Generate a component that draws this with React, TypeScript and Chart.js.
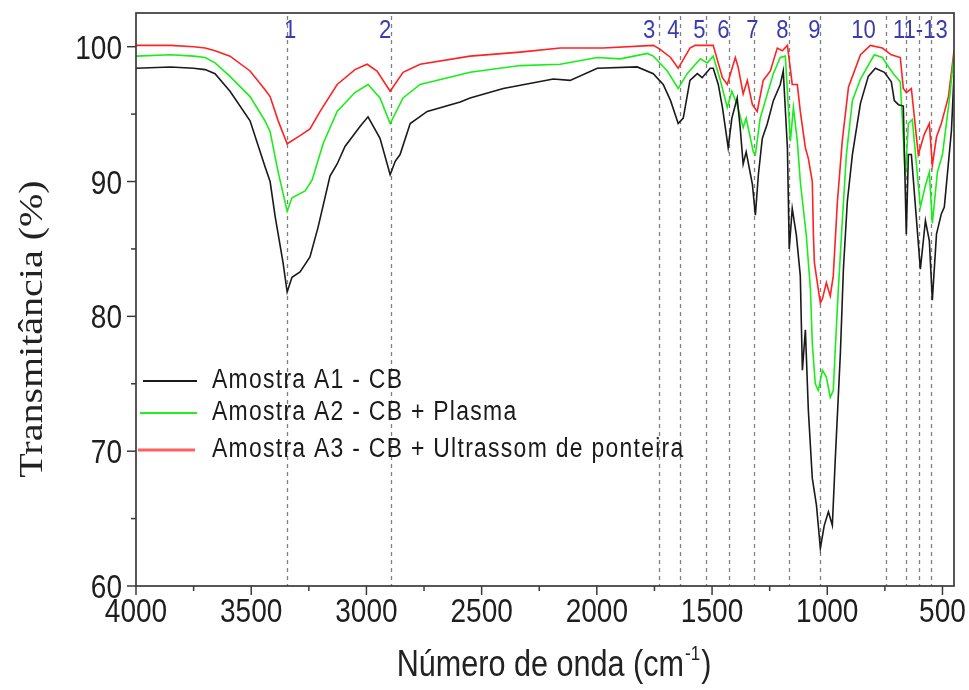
import { useEffect, useRef } from "react";
import { Chart, registerables } from "chart.js";

Chart.register(...registerables);

// ---------- data ----------
const seriesLabels = [
  "Amostra A1 - CB",
  "Amostra A2 - CB + Plasma",
  "Amostra A3 - CB + Ultrassom de ponteira",
];
const seriesColors = ["#1a1a1a", "#19ee19", "#ff2222"];
const legendColors = ["#1a1a1a", "#22ee22", "#ff6060"];

const a1Wave = [4000, 3850, 3750, 3700, 3657, 3592, 3505, 3440, 3418, 3396, 3362, 3344, 3323, 3288, 3245, 3210, 3158, 3127, 3093, 3027, 2993, 2941, 2897, 2875, 2854, 2810, 2736, 2593, 2550, 2406, 2189, 2116, 1998, 1825, 1755, 1712, 1680, 1647, 1625, 1596, 1564, 1543, 1508, 1495, 1473, 1455, 1434, 1430, 1414, 1391, 1378, 1365, 1352, 1325, 1312, 1299, 1282, 1260, 1234, 1204, 1191, 1173, 1165, 1152, 1134, 1117, 1108, 1095, 1082, 1065, 1047, 1030, 1013, 995, 978, 965, 943, 930, 913, 891, 856, 822, 791, 752, 722, 709, 691, 670, 657, 648, 635, 596, 574, 557, 544, 526, 505, 492, 461, 450];
const a1T = [98.4, 98.5, 98.4, 98.3, 98.0, 96.7, 94.5, 91.1, 90.0, 87.4, 84.0, 81.8, 82.9, 83.3, 84.4, 86.6, 90.4, 91.3, 92.6, 94.1, 94.8, 93.2, 90.5, 91.5, 92.0, 94.3, 95.2, 95.9, 96.2, 96.9, 97.6, 97.5, 98.4, 98.5, 98.0, 97.2, 96.0, 94.3, 94.7, 97.5, 98.0, 97.7, 98.4, 98.4, 97.2, 95.5, 93.0, 92.5, 94.7, 96.2, 94.0, 91.3, 92.2, 89.8, 87.5, 90.5, 93.2, 94.3, 96.0, 97.2, 98.2, 92.5, 85.0, 88.0, 86.0, 83.0, 76.0, 79.0, 73.0, 68.0, 66.0, 62.8, 64.5, 65.5, 64.5, 69.5, 77.3, 83.5, 88.5, 92.0, 95.8, 97.8, 98.4, 98.1, 97.4, 96.0, 95.7, 95.6, 86.1, 92.0, 92.0, 83.5, 87.1, 85.6, 81.2, 86.1, 87.6, 88.1, 93.8, 97.9];

const a2Wave = [4000, 3850, 3750, 3700, 3657, 3592, 3505, 3440, 3418, 3383, 3344, 3323, 3266, 3236, 3188, 3127, 3050, 2993, 2941, 2897, 2841, 2767, 2550, 2333, 2159, 1998, 1898, 1781, 1755, 1738, 1694, 1647, 1608, 1551, 1521, 1495, 1464, 1434, 1414, 1391, 1365, 1352, 1321, 1312, 1291, 1260, 1234, 1204, 1182, 1169, 1160, 1147, 1130, 1117, 1104, 1091, 1073, 1065, 1052, 1039, 1021, 1004, 987, 974, 961, 952, 935, 917, 891, 856, 796, 761, 730, 709, 683, 661, 648, 631, 596, 574, 557, 544, 522, 500, 470, 450];
const a2T = [99.3, 99.4, 99.3, 99.2, 98.8, 97.8, 96.3, 94.5, 93.7, 90.7, 87.8, 88.8, 89.3, 90.1, 92.8, 95.2, 96.6, 97.2, 96.2, 94.3, 96.2, 97.2, 98.1, 98.6, 98.7, 99.2, 99.1, 99.5, 99.3, 99.0, 98.2, 96.9, 98.0, 99.1, 98.8, 99.3, 97.5, 95.5, 96.7, 95.7, 94.0, 94.7, 92.2, 92.0, 94.7, 96.5, 98.0, 99.2, 99.3, 95.5, 93.0, 95.5, 93.0, 90.0, 88.0, 86.0, 82.0, 78.0, 75.0, 74.5, 76.0, 75.5, 74.0, 74.5, 79.0, 82.0, 87.0, 92.0, 96.0, 97.6, 99.4, 99.2, 98.4, 97.9, 97.4, 90.4, 94.3, 94.6, 88.1, 89.7, 90.7, 86.9, 90.7, 92.0, 96.1, 99.4];

const a3Wave = [4000, 3850, 3750, 3700, 3657, 3592, 3505, 3440, 3418, 3383, 3344, 3288, 3245, 3201, 3127, 3050, 2997, 2954, 2897, 2841, 2767, 2550, 2333, 2159, 1972, 1755, 1725, 1680, 1647, 1596, 1573, 1495, 1455, 1434, 1399, 1387, 1365, 1347, 1325, 1304, 1278, 1247, 1217, 1195, 1173, 1152, 1130, 1117, 1095, 1082, 1065, 1060, 1056, 1039, 1030, 1021, 1004, 987, 974, 956, 935, 908, 856, 813, 761, 722, 683, 670, 657, 635, 605, 579, 557, 544, 526, 505, 474, 450];
const a3T = [100.1, 100.1, 100.0, 99.9, 99.7, 99.3, 98.2, 96.8, 96.3, 94.5, 92.8, 93.4, 93.9, 95.2, 97.2, 98.3, 98.7, 98.2, 96.7, 98.1, 98.7, 99.3, 99.6, 99.9, 99.9, 100.1, 99.8, 99.2, 98.4, 99.9, 100.1, 100.1, 97.7, 97.2, 99.2, 98.5, 96.5, 97.5, 95.7, 95.2, 97.5, 98.2, 99.9, 99.7, 100.1, 97.2, 97.2, 95.2, 92.5, 91.7, 90.0, 86.0, 84.0, 82.0, 81.0, 81.3, 82.5, 81.5, 83.0, 88.5, 93.0, 97.0, 99.4, 100.1, 99.9, 99.4, 99.2, 96.9, 96.6, 96.9, 92.0, 93.5, 94.3, 91.2, 93.3, 94.3, 96.3, 99.7];

const xTicks = [4000, 3500, 3000, 2500, 2000, 1500, 1000, 500];
const xMinorTicks = [3750, 3250, 2750, 2250, 1750, 1250, 750];
const yTicks = [60, 70, 80, 90, 100];
const yMinorTicks = [65, 75, 85, 95];

const peakWave = [3344, 2895, 1730, 1640, 1525, 1425, 1317, 1165, 1030, 743, 657, 604, 548];
const peakLabels = ["1", "2", "3", "4", "5", "6", "7", "8", "9", "10", "11-13"];
const peakLabelWave = [3331, 2919, 1773, 1668, 1555, 1451, 1325, 1195, 1056, 843, 596];

const xTitle = "Número de onda (cm";
const xTitleSup = "-1";
const yTitle = "Transmitância (%)";

const SANS = "'Liberation Sans', Arial, sans-serif";
const SERIF = "'Liberation Serif', 'Times New Roman', serif";
const SQ = 0.85; // horizontal squeeze of the reference's lettering

function txt(ctx: CanvasRenderingContext2D, s: string, x: number, y: number, align: CanvasTextAlign, sx = SQ) {
  ctx.save();
  ctx.translate(x, y);
  ctx.scale(sx, 1);
  ctx.textAlign = align;
  ctx.fillText(s, 0, 0);
  ctx.restore();
}

const decorPlugin = {
  id: "decor",
  beforeDraw(chart: any) {
    const ctx = chart.ctx;
    ctx.save();
    ctx.fillStyle = "#ffffff";
    ctx.fillRect(0, 0, chart.width, chart.height);
    ctx.restore();
  },
  beforeDatasetsDraw(chart: any) {
    const { ctx, chartArea, scales } = chart;
    const xs = scales.x;
    ctx.save();
    ctx.strokeStyle = "#808080";
    ctx.lineWidth = 1.3;
    ctx.setLineDash([4, 4]);
    peakWave.forEach((w) => {
      const px = Math.round(xs.getPixelForValue(w)) + 0.5;
      ctx.beginPath();
      ctx.moveTo(px, chartArea.top + 3);
      ctx.lineTo(px, chartArea.bottom);
      ctx.stroke();
    });
    ctx.restore();
  },
  afterDraw(chart: any) {
    const { ctx, chartArea, scales } = chart;
    const xs = scales.x;
    const ys = scales.y;
    const { left, right, top, bottom } = chartArea;
    ctx.save();
    // frame
    ctx.strokeStyle = "#3a3a3a";
    ctx.lineWidth = 1.7;
    ctx.strokeRect(left, top, right - left, bottom - top);
    // ticks
    ctx.lineWidth = 1.5;
    xTicks.forEach((v) => {
      const px = xs.getPixelForValue(v);
      ctx.beginPath();
      ctx.moveTo(px, bottom);
      ctx.lineTo(px, bottom + 9);
      ctx.stroke();
    });
    xMinorTicks.forEach((v) => {
      const px = xs.getPixelForValue(v);
      ctx.beginPath();
      ctx.moveTo(px, bottom);
      ctx.lineTo(px, bottom + 5);
      ctx.stroke();
    });
    yTicks.forEach((v) => {
      const py = ys.getPixelForValue(v);
      ctx.beginPath();
      ctx.moveTo(left, py);
      ctx.lineTo(left - 9, py);
      ctx.stroke();
    });
    yMinorTicks.forEach((v) => {
      const py = ys.getPixelForValue(v);
      ctx.beginPath();
      ctx.moveTo(left, py);
      ctx.lineTo(left - 5, py);
      ctx.stroke();
    });
    // tick labels
    ctx.fillStyle = "#1e1e1e";
    ctx.font = `33px ${SANS}`;
    ctx.textBaseline = "alphabetic";
    xTicks.forEach((v) => {
      txt(ctx, String(v), xs.getPixelForValue(v), bottom + 36, "center");
    });
    yTicks.forEach((v) => {
      txt(ctx, String(v), left - 14, ys.getPixelForValue(v) + 12, "right");
    });
    // peak labels
    ctx.fillStyle = "#3b3bb0";
    ctx.font = `26px ${SANS}`;
    ctx.textBaseline = "middle";
    peakLabels.forEach((t, i) => {
      txt(ctx, t, xs.getPixelForValue(peakLabelWave[i]), top + 18, "center");
    });
    // legend
    const legY = [381, 413, 450];
    const legX0 = [143, 140, 138];
    const legX1 = [197, 197, 195];
    ctx.font = `27px ${SANS}`;
    ctx.textBaseline = "middle";
    (ctx as any).letterSpacing = "1.5px";
    seriesLabels.forEach((lab, i) => {
      ctx.strokeStyle = legendColors[i];
      ctx.lineWidth = i === 2 ? 3 : 2;
      ctx.beginPath();
      ctx.moveTo(legX0[i], legY[i]);
      ctx.lineTo(legX1[i], legY[i]);
      ctx.stroke();
      ctx.fillStyle = "#1a1a1a";
      txt(ctx, lab, 212, legY[i], "left");
    });
    (ctx as any).letterSpacing = "0px";
    // x title
    ctx.fillStyle = "#222";
    ctx.textBaseline = "alphabetic";
    ctx.font = `36px ${SANS}`;
    const mainW = ctx.measureText(xTitle).width * SQ;
    const closeW = ctx.measureText(")").width * SQ;
    ctx.font = `20px ${SANS}`;
    const supW = ctx.measureText(xTitleSup).width * SQ;
    const total = mainW + supW + closeW + 2;
    let tx = 554 - total / 2;
    const ty = 676;
    ctx.font = `36px ${SANS}`;
    txt(ctx, xTitle, tx, ty, "left");
    tx += mainW + 1;
    ctx.font = `20px ${SANS}`;
    txt(ctx, xTitleSup, tx, ty - 16, "left");
    tx += supW + 1;
    ctx.font = `36px ${SANS}`;
    txt(ctx, ")", tx, ty, "left");
    // y title
    ctx.save();
    ctx.translate(42, 329);
    ctx.scale(SQ, 1);
    ctx.rotate(-Math.PI / 2);
    ctx.font = `40px ${SERIF}`;
    ctx.textAlign = "center";
    ctx.textBaseline = "alphabetic";
    ctx.fillStyle = "#222";
    ctx.fillText(yTitle, 0, 0);
    ctx.restore();
    ctx.restore();
  },
};

export default function App() {
  const ref = useRef<HTMLCanvasElement | null>(null);
  useEffect(() => {
    if (!ref.current) return;
    const mk = (w: number[], t: number[]) => w.map((x, i) => ({ x, y: t[i] }));
    const common = { borderWidth: 1.6, pointRadius: 0, tension: 0, fill: false };
    const chart = new Chart(ref.current, {
      type: "line",
      data: {
        datasets: [
          { label: seriesLabels[0], data: mk(a1Wave, a1T), borderColor: seriesColors[0], ...common },
          { label: seriesLabels[1], data: mk(a2Wave, a2T), borderColor: seriesColors[1], ...common },
          { label: seriesLabels[2], data: mk(a3Wave, a3T), borderColor: seriesColors[2], ...common },
        ],
      },
      options: {
        responsive: false,
        animation: false,
        events: [],
        layout: { padding: { top: 13, right: 15, left: 0, bottom: 0 } },
        plugins: { legend: { display: false }, tooltip: { enabled: false }, title: { display: false } },
        scales: {
          x: {
            type: "linear",
            reverse: true,
            min: 450,
            max: 4000,
            afterBuildTicks: (s: any) => {
              s.ticks = xTicks.map((v) => ({ value: v }));
            },
            afterFit: (s: any) => {
              s.height = 104;
            },
            ticks: { display: false },
            grid: { display: false },
            border: { display: false },
          },
          y: {
            type: "linear",
            min: 60,
            max: 102.5,
            afterBuildTicks: (s: any) => {
              s.ticks = yTicks.map((v) => ({ value: v }));
            },
            afterFit: (s: any) => {
              s.width = 136;
            },
            ticks: { display: false },
            grid: { display: false },
            border: { display: false },
          },
        },
      },
      plugins: [decorPlugin],
    } as any);
    return () => chart.destroy();
  }, []);
  return (
    <div style={{ position: "absolute", left: 0, top: 0, width: 969, height: 690, background: "#fff" }}>
      <canvas ref={ref} width={969} height={690} style={{ width: 969, height: 690, display: "block" }} />
    </div>
  );
}
